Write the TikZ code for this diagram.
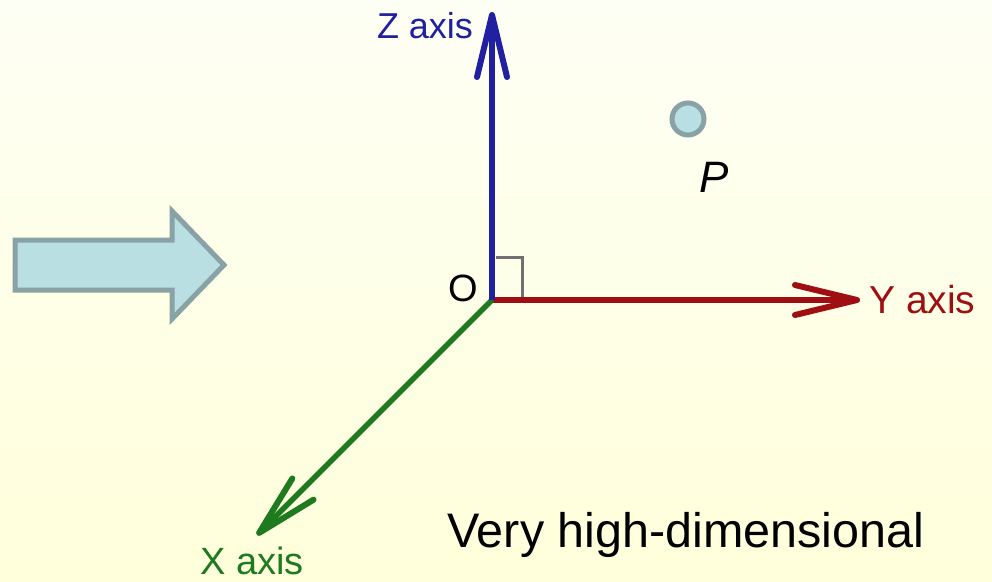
\documentclass[tikz,border=0pt]{standalone}
\usepackage{fontspec}
\setmainfont{Liberation Sans}
\usetikzlibrary{arrows.meta}
\definecolor{bgtop}{RGB}{254,255,244}
\definecolor{bgbot}{RGB}{255,255,219}
\definecolor{zblue}{RGB}{32,32,160}
\definecolor{yred}{RGB}{158,14,18}
\definecolor{xgreen}{RGB}{30,122,30}
\definecolor{cyanfill}{RGB}{185,223,227}
\definecolor{cyanline}{RGB}{136,162,165}
\definecolor{sqgray}{RGB}{112,112,112}
\tikzset{
  axisline/.style={line width=5.5pt, -{Straight Barb[length=62pt, width=30pt, line width=6pt, round]}},
  lbl/.style={inner sep=0pt, font=\fontsize{#1}{#1}\selectfont},
}
\begin{document}
\begin{tikzpicture}[x=1pt,y=-1pt]
\useasboundingbox (0,0) rectangle (992,581);
\shade[top color=bgtop, bottom color=bgbot] (0,0) rectangle (992,581);
% block arrow
\draw[fill=cyanfill, draw=cyanline, line width=5pt, line join=miter]
  (15,240) -- (172,240) -- (172,211) -- (224,265) -- (172,319) -- (172,290) -- (15,290) -- cycle;
% origin and tips
\coordinate (O) at (492,300);
\coordinate (Zt) at (492,12);
\coordinate (Yt) at (860,300);
\coordinate (Xt) at (257,535);
% right angle
\coordinate (sqa) at (496,257);
\coordinate (sqb) at (522,257);
\coordinate (sqc) at (522,300);
\draw[sqgray, line width=3pt] (sqa) -- (sqb) -- (sqc);
\draw[axisline, yred] (O) -- (Yt);
\draw[axisline, xgreen] (O) -- (Xt);
\draw[axisline, zblue] (O) -- (Zt);
% labels
\node[lbl=36, text=zblue, anchor=base] (zl) at (425,38) {Z axis};
\node[lbl=39, text=yred, anchor=base west] (yl) at (869,313) {Y axis};
\node[lbl=38, text=xgreen, anchor=base] (xl) at (252,574) {X axis};
\node[lbl=38, anchor=center] (ol) at (463,288) {O};
% point P
\node[circle, fill=cyanfill, draw=cyanline, line width=5pt, minimum size=32pt, inner sep=0pt] (pt) at (688,119) {};
\node[lbl=44, anchor=base] (pl) at (714,192) {\itshape P};
\node[lbl=48.5, anchor=base west] (vh) at (447,547) {Very high-dimensional};
\end{tikzpicture}
\end{document}
